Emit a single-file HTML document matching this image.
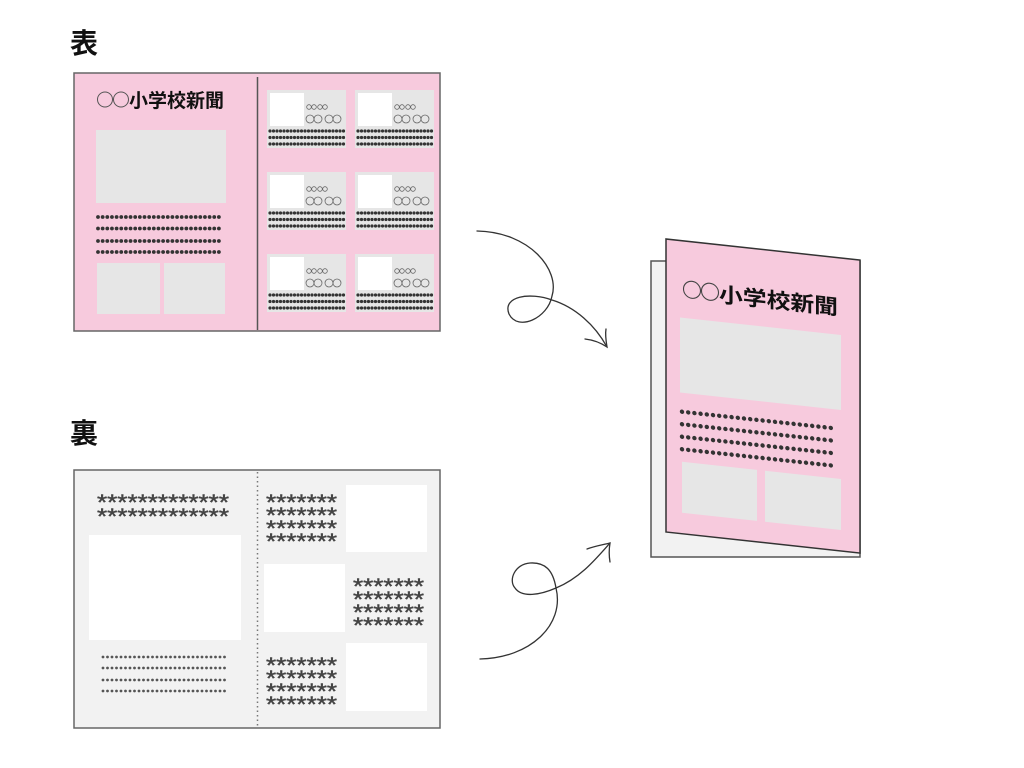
<!DOCTYPE html>
<html><head><meta charset="utf-8"><style>html,body{margin:0;padding:0;background:#fff}svg{display:block}</style></head>
<body>
<svg width="1024" height="768" viewBox="0 0 1024 768" xmlns="http://www.w3.org/2000/svg" font-family="Liberation Sans, Noto Sans CJK JP, sans-serif">
<defs>
<g id="card">
<rect x="0" y="0" width="79" height="58" fill="#e6e6e6"/>
<rect x="3" y="3" width="34" height="33" fill="#fff"/>
<g fill="none" stroke="#666" stroke-width="0.8">
<circle cx="42" cy="17" r="2.3"/><circle cx="47" cy="17" r="2.3"/><circle cx="53" cy="17" r="2.3"/><circle cx="58" cy="17" r="2.3"/>
<circle cx="43" cy="29" r="4"/><circle cx="51" cy="29" r="4"/><circle cx="62" cy="29" r="4"/><circle cx="70" cy="29" r="4"/>
</g>
<g stroke="#333" stroke-width="3.2" stroke-linecap="round" stroke-dasharray="0 3.5">
<line x1="3" y1="41" x2="77" y2="41"/>
<line x1="3" y1="47.5" x2="77" y2="47.5"/>
<line x1="3" y1="54" x2="77" y2="54"/>
</g>
</g>
<g id="ast7" font-size="22" fill="#444" stroke="#444" stroke-width="0.45">
<text x="0" y="17" textLength="71" lengthAdjust="spacingAndGlyphs">*******</text>
<text x="0" y="30" textLength="71" lengthAdjust="spacingAndGlyphs">*******</text>
<text x="0" y="43" textLength="71" lengthAdjust="spacingAndGlyphs">*******</text>
<text x="0" y="56" textLength="71" lengthAdjust="spacingAndGlyphs">*******</text>
</g>
</defs>

<text x="70" y="53" font-size="28" font-weight="bold" fill="#111">表</text>
<text x="70" y="443" font-size="28" font-weight="bold" fill="#111">裏</text>

<!-- front spread -->
<rect x="74" y="73" width="366" height="258" fill="#f7cadd" stroke="#666" stroke-width="1.5"/>
<line x1="257.5" y1="77" x2="257.5" y2="330" stroke="#555" stroke-width="1.5"/>
<g fill="none" stroke="#555" stroke-width="1"><circle cx="105" cy="99.5" r="7.5"/><circle cx="121" cy="99.5" r="7.5"/></g>
<text x="129" y="107" font-size="19" font-weight="bold" fill="#111" textLength="95" lengthAdjust="spacingAndGlyphs">小学校新聞</text>
<rect x="96" y="130" width="130" height="73" fill="#e6e6e6"/>
<g stroke="#333" stroke-width="3.8" stroke-linecap="round" stroke-dasharray="0 4.65">
<line x1="98" y1="217" x2="222" y2="217"/>
<line x1="98" y1="228.5" x2="222" y2="228.5"/>
<line x1="98" y1="241" x2="222" y2="241"/>
<line x1="98" y1="252" x2="222" y2="252"/>
</g>
<rect x="97" y="263" width="63" height="51" fill="#e6e6e6"/>
<rect x="164" y="263" width="61" height="51" fill="#e6e6e6"/>
<use href="#card" x="267" y="90"/><use href="#card" x="355" y="90"/>
<use href="#card" x="267" y="172"/><use href="#card" x="355" y="172"/>
<use href="#card" x="267" y="254"/><use href="#card" x="355" y="254"/>

<!-- back spread -->
<rect x="74" y="470" width="366" height="258" fill="#f2f2f2" stroke="#666" stroke-width="1.5"/>
<line x1="257.5" y1="472" x2="257.5" y2="728" stroke="#777" stroke-width="1.5" stroke-dasharray="1.5 3"/>
<g font-size="22" fill="#444" stroke="#444" stroke-width="0.45">
<text x="97" y="510" textLength="132" lengthAdjust="spacingAndGlyphs">*************</text>
<text x="97" y="524" textLength="132" lengthAdjust="spacingAndGlyphs">*************</text>
</g>
<rect x="89" y="535" width="152" height="105" fill="#fff"/>
<g stroke="#555" stroke-width="2.8" stroke-linecap="round" stroke-dasharray="0 4.5">
<line x1="103" y1="657" x2="227" y2="657"/>
<line x1="103" y1="668" x2="227" y2="668"/>
<line x1="103" y1="680" x2="227" y2="680"/>
<line x1="103" y1="691" x2="227" y2="691"/>
</g>
<use href="#ast7" x="266" y="493"/>
<rect x="346" y="485" width="81" height="67" fill="#fff"/>
<rect x="264" y="564" width="81" height="68" fill="#fff"/>
<use href="#ast7" x="353" y="577"/>
<use href="#ast7" x="266" y="656"/>
<rect x="346" y="643" width="81" height="68" fill="#fff"/>

<!-- arrows -->
<g fill="none" stroke="#333" stroke-width="1.3" stroke-linecap="round">
<path d="M477,231 C530,232 560,270 552,296 C548,318 518,332 509,314 C502,296 530,292 552,300 C575,307 595,325 607,347"/>
<path d="M585,339 C594,340 601,343 607,347 C606,341 605,335 606,329"/>
<path d="M480,659 C530,658 565,625 556,588 C553,570 545,562 530,563 C515,564 508,580 515,588 C522,598 540,595 556,588 C580,578 595,560 610,543"/>
<path d="M587,549 C595,546 602,545 610,543 C609,549 609,556 610,562"/>
</g>

<!-- folded -->
<rect x="651" y="261" width="209" height="296" fill="#f2f2f2" stroke="#555" stroke-width="1.5"/>
<g transform="translate(666,239) skewY(6.2)">
<rect x="0" y="0" width="194" height="293" fill="#f7cadd" stroke="#333" stroke-width="1.5"/>
<g fill="none" stroke="#444" stroke-width="1.1"><circle cx="26" cy="48" r="8.5"/><circle cx="44" cy="48" r="8.5"/></g>
<text x="53" y="57" font-size="21" font-weight="bold" fill="#111" textLength="119" lengthAdjust="spacingAndGlyphs">小学校新聞</text>
<rect x="14" y="77" width="161" height="75" fill="#e6e6e6"/>
<g stroke="#333" stroke-width="4.4" stroke-linecap="round" stroke-dasharray="0 6.2">
<line x1="16" y1="171" x2="170" y2="171"/>
<line x1="16" y1="183.5" x2="170" y2="183.5"/>
<line x1="16" y1="196" x2="170" y2="196"/>
<line x1="16" y1="208.5" x2="170" y2="208.5"/>
</g>
<rect x="16" y="221" width="75" height="51" fill="#e6e6e6"/>
<rect x="99" y="221" width="76" height="51" fill="#e6e6e6"/>
</g>
</svg>
</body></html>
